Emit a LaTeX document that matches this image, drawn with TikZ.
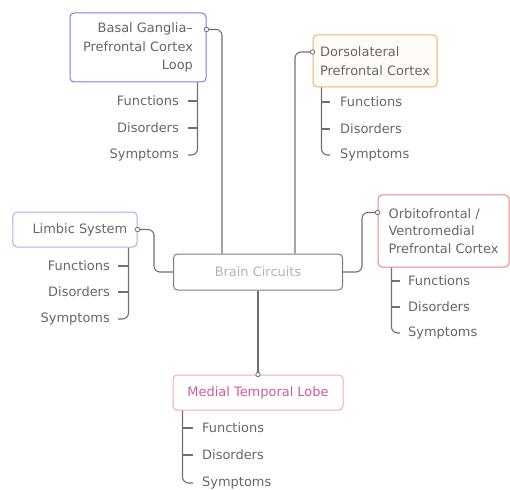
\documentclass[tikz,border=0pt]{standalone}
\usepackage{fontspec}
\setmainfont{DejaVu Sans}
\usetikzlibrary{calc}
\definecolor{linegray}{HTML}{707070}
\definecolor{txtgray}{HTML}{666666}
\definecolor{hubtxt}{HTML}{B3B3B3}
\definecolor{hubedge}{HTML}{7E7E7E}
\definecolor{bgedge}{HTML}{8478E4}
\definecolor{dledge}{HTML}{F0B072}
\definecolor{dlfill}{HTML}{FFFBF6}
\definecolor{limedge}{HTML}{C4A4E6}
\definecolor{ofedge}{HTML}{E88585}
\definecolor{mtledge}{HTML}{F0A6CC}
\definecolor{mtltxt}{HTML}{D4589E}
\begin{document}
\begin{tikzpicture}[x=1bp,y=-1bp,
  font=\fontsize{13}{18.5}\selectfont,
  box/.style={draw, rounded corners=4bp, line width=1bp, fill=white,
    inner sep=0pt, text=txtgray},
  leafE/.style={anchor=east, inner sep=0pt, text=txtgray},
  leafW/.style={anchor=west, inner sep=0pt, text=txtgray},
  conn/.style={draw=linegray, line width=1.1bp, rounded corners=6bp},
  tick/.style={draw=linegray, line width=1.1bp},
  dot/.style={draw=linegray, fill=white, line width=0.8bp}]
\useasboundingbox (0,0) rectangle (510,490);

% central hub
\node[box, draw=hubedge, text=hubtxt, minimum width=169bp, minimum height=36bp]
  (bc) at (258,272) {Brain Circuits};

% circuit boxes
\node[box, draw=bgedge, minimum width=136bp, minimum height=69bp, align=right]
  (bg) at (138,47.5) {Basal Ganglia–\\Prefrontal Cortex\\Loop};
\node[box, draw=dledge, fill=dlfill, minimum width=124bp, minimum height=52bp, align=left]
  (dl) at (375,61) {Dorsolateral\\Prefrontal Cortex};
\node[box, draw=limedge, minimum width=124bp, minimum height=35bp]
  (lim) at (75,229.5) {};
\node[anchor=east, inner sep=0pt, text=txtgray] (limtxt) at ($(lim.east)+(-10,0)$) {Limbic System};
\node[box, draw=ofedge, minimum width=131bp, minimum height=72bp, align=left,
  font=\fontsize{13}{17.5}\selectfont]
  (of) at (443.5,231) {Orbitofrontal /\\Ventromedial\\Prefrontal Cortex};
\node[box, draw=mtledge, text=mtltxt, minimum width=170bp, minimum height=35bp]
  (mtl) at (258,392.5) {Medial Temporal Lobe};

% attachment points on the circuit boxes
\coordinate (bgdot) at ($(bg.north east)+(0,17)$);
\coordinate (dldot) at ($(dl.north west)+(0,17.5)$);
\coordinate (limdot) at (lim.east);
\coordinate (ofdot) at ($(of.north west)+(0,18)$);
\coordinate (mtldot) at (mtl.north);

% hub connectors
\draw[conn] ($(bc.north)+(-36,0)$) |- (bgdot);
\draw[conn] ($(bc.north)+(37,0)$) |- (dldot);
\draw[conn] (bc.west) -- ++(-19,0) |- (limdot);
\draw[conn] (bc.east) -- ++(19,0) |- (ofdot);
\draw[conn] (bc.south) -- (mtldot);
\foreach \d in {bgdot,dldot,limdot,ofdot,mtldot}
  \draw[dot] (\d) circle (2.2bp);

% Basal ganglia branch
\node[leafE] (bgF) at (179,101) {Functions};
\node[leafE] (bgD) at (179,128) {Disorders};
\node[leafE] (bgS) at (179,155) {Symptoms};
\coordinate (bgt) at ($(bg.south east)+(-9,0)$);
\draw[tick] ($(bgF.east)+(9,0)$) -- (bgF.east -| bgt);
\draw[tick] ($(bgD.east)+(9,0)$) -- (bgD.east -| bgt);
\draw[conn] (bgt) |- ($(bgS.east)+(9,0)$);

% Dorsolateral branch
\node[leafW] (dlF) at (340,102) {Functions};
\node[leafW] (dlD) at (340,129) {Disorders};
\node[leafW] (dlS) at (340,155) {Symptoms};
\coordinate (dlt) at ($(dl.south west)+(9,0)$);
\draw[tick] (dlF.west -| dlt) -- ($(dlF.west)+(-10,0)$);
\draw[tick] (dlD.west -| dlt) -- ($(dlD.west)+(-10,0)$);
\draw[conn] (dlt) |- ($(dlS.west)+(-10,0)$);

% Limbic branch
\node[leafE] (limF) at (110,266) {Functions};
\node[leafE] (limD) at (110,292) {Disorders};
\node[leafE] (limS) at (110,319) {Symptoms};
\coordinate (limt) at ($(lim.south east)+(-9,0)$);
\draw[tick] ($(limF.east)+(8,0)$) -- (limF.east -| limt);
\draw[tick] ($(limD.east)+(8,0)$) -- (limD.east -| limt);
\draw[conn] (limt) |- ($(limS.east)+(8,0)$);

% Orbitofrontal branch
\node[leafW] (ofF) at (408,281) {Functions};
\node[leafW] (ofD) at (408,307) {Disorders};
\node[leafW] (ofS) at (408,333) {Symptoms};
\coordinate (oft) at ($(of.south west)+(14,0)$);
\draw[tick] (ofF.west -| oft) -- ($(ofF.west)+(-8,0)$);
\draw[tick] (ofD.west -| oft) -- ($(ofD.west)+(-8,0)$);
\draw[conn] (oft) |- ($(ofS.west)+(-8,0)$);

% Medial temporal branch
\node[leafW] (mtlF) at (202,428) {Functions};
\node[leafW] (mtlD) at (202,455) {Disorders};
\node[leafW] (mtlS) at (202,483) {Symptoms};
\coordinate (mtlt) at ($(mtl.south west)+(10,0)$);
\draw[tick] (mtlF.west -| mtlt) -- ($(mtlF.west)+(-9,0)$);
\draw[tick] (mtlD.west -| mtlt) -- ($(mtlD.west)+(-9,0)$);
\draw[conn] (mtlt) |- ($(mtlS.west)+(-9,0)$);
\end{tikzpicture}
\end{document}
